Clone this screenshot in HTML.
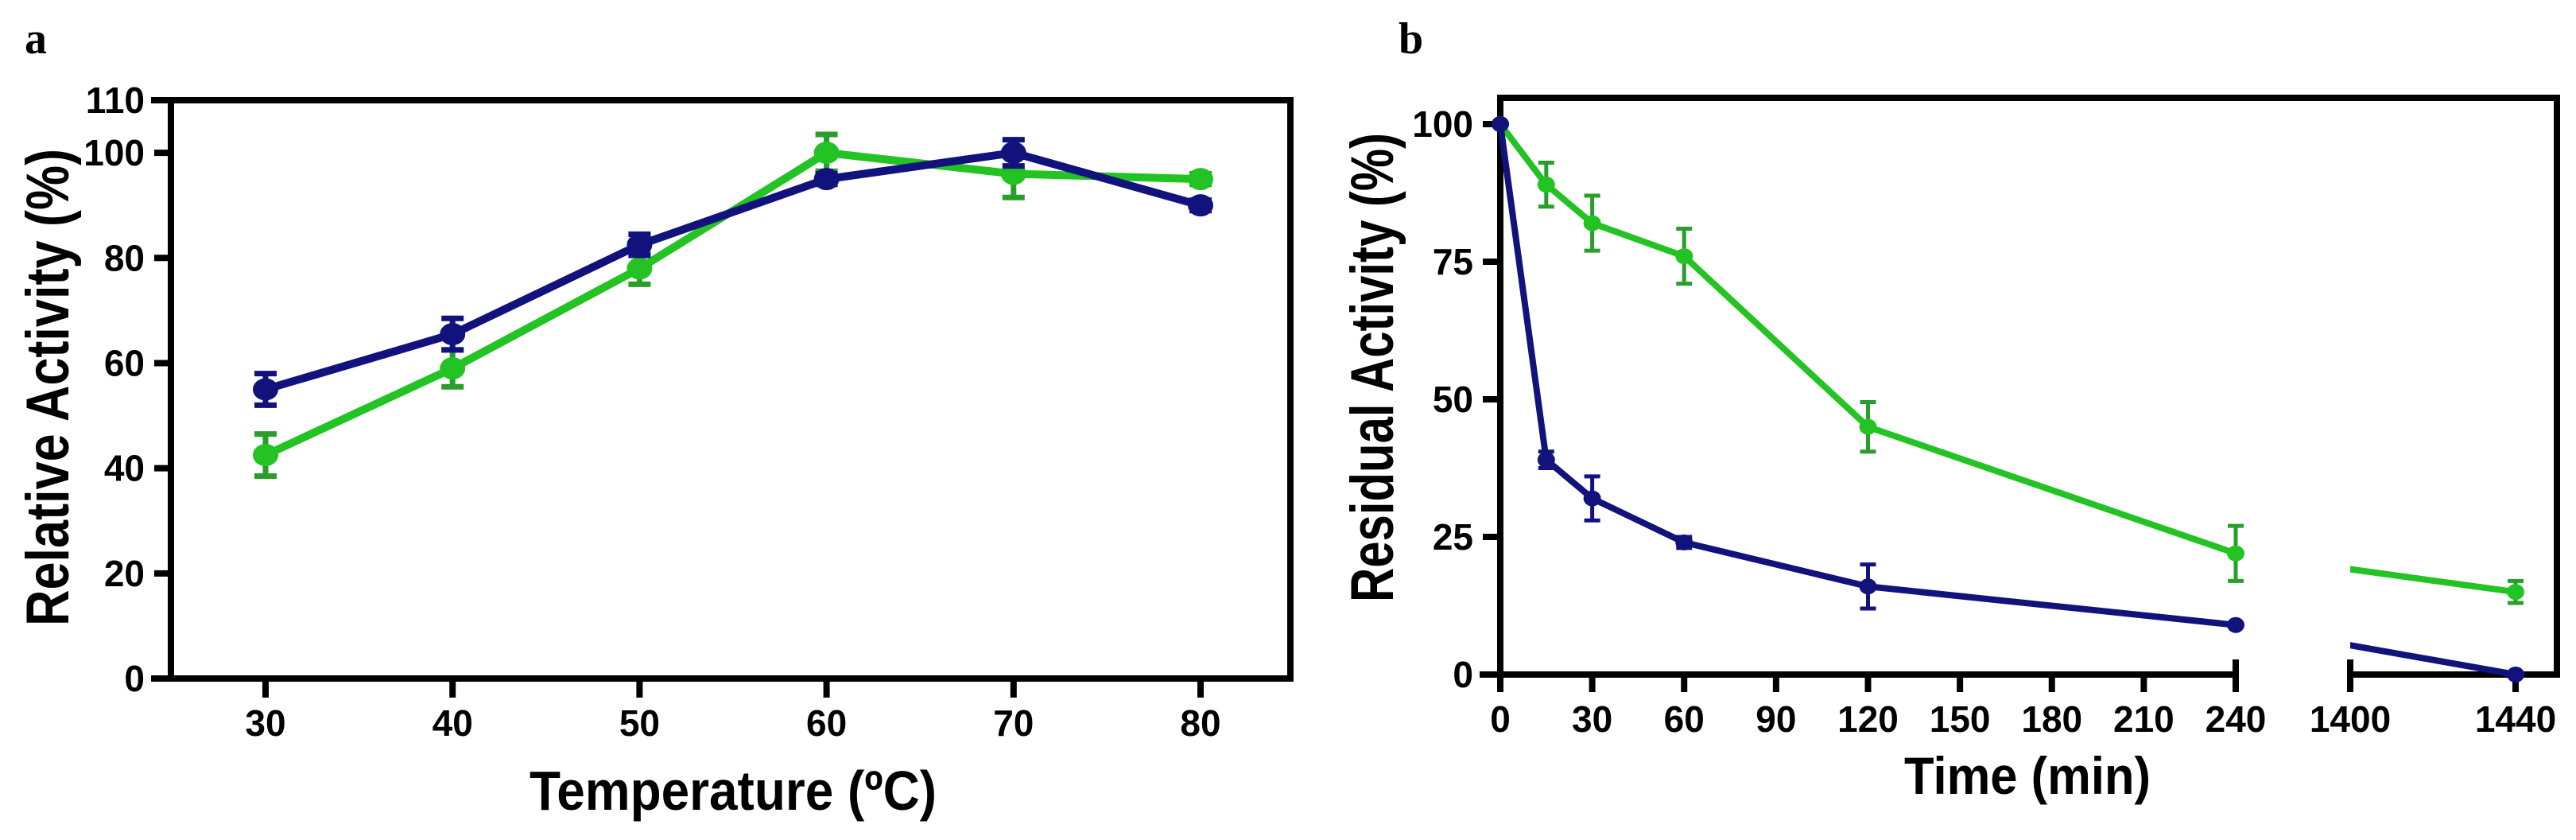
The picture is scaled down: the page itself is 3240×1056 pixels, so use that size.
<!DOCTYPE html>
<html><head><meta charset="utf-8"><style>
html,body{margin:0;padding:0;background:#fff;}
svg text{font-family:"Liberation Sans Narrow","Liberation Sans",sans-serif;font-weight:bold;fill:#000;}
</style></head><body>
<svg id="fig" xmlns="http://www.w3.org/2000/svg" width="3240" height="1051" viewBox="0 0 3240 1051">
<text x="31" y="67" style="font-family:'Liberation Serif',serif;font-size:56px;">a</text>
<text x="1759" y="67" style="font-family:'Liberation Serif',serif;font-size:56px;">b</text>
<text x="922" y="1018" text-anchor="middle" textLength="512" lengthAdjust="spacingAndGlyphs" style="font-size:70px;">Temperature (ºC)</text>
<text transform="translate(86,487) rotate(-90)" text-anchor="middle" textLength="600" lengthAdjust="spacingAndGlyphs" style="font-family:'Liberation Sans',sans-serif;font-size:76px;">Relative Activity (%)</text>
<text x="2550" y="998" text-anchor="middle" textLength="310" lengthAdjust="spacingAndGlyphs" style="font-size:66px;">Time (min)</text>
<text transform="translate(1752,462) rotate(-90)" text-anchor="middle" textLength="590" lengthAdjust="spacingAndGlyphs" style="font-family:'Liberation Sans',sans-serif;font-size:76px;">Residual Activity (%)</text>
<g id="ga"></g>
<g id="gb"></g>
</svg>
<script>
// Panel a data
const aTemps = [30,40,50,60,70,80];
const aBlue = [55,65.5,82.5,95,100,90];
const aBlueErr = [3,3,2,1,2.5,1];
const aGreen = [42.5,59,78,100,96,95];
const aGreenErr = [4,3.5,3,3.5,4.5,1];
const aYTicks = [0,20,40,60,80,100,110];
const aXTicks = [30,40,50,60,70,80];
// Panel b data
const bTimes = [0,15,30,60,120,240,1440];
const bGreen = [100,89,82,76,45,22,15];
const bGreenErr = [0,4,5,5,4.5,5,2];
const bBlue = [100,39,32,24,16,9,0];
const bBlueErr = [0,1.5,4,1,4,0,0];
const bYTicks = [0,25,50,75,100];
const bXTicks = [0,30,60,90,120,150,180,210,240,1400,1440];

const NS='http://www.w3.org/2000/svg';
const NAVY='#12127c', GREEN='#22c322', GERR='#2a9e2a';
function mk(parent,tag,attrs){const e=document.createElementNS(NS,tag);for(const k in attrs)e.setAttribute(k,attrs[k]);parent.appendChild(e);return e;}

// ---- Panel a ----
const ga=document.getElementById('ga');
const ax=v=>334+(v-30)*(1510-334)/50;
const ay=v=>853-v*(853-126)/110;
function frameA(){
  [[194,126,1623,126],[215,126,215,853],[194,853,1623,853],[1623,126,1623,853]].forEach(s=>{
    const l=mk(ga,'line',{x1:s[0],y1:s[1],x2:s[2],y2:s[3],stroke:'#000','stroke-width':8,'stroke-linecap':'square'});
    
    
  });
  aYTicks.forEach(t=>{
    const l=mk(ga,'line',{x1:194,y1:ay(t),x2:215,y2:ay(t),stroke:'#000','stroke-width':8});
    
    
    const tx=mk(ga,'text',{x:182,y:ay(t)+16,'text-anchor':'end','font-size':46});
    tx.textContent=t;
    
    
  });
  aXTicks.forEach(t=>{
    const l=mk(ga,'line',{x1:ax(t),y1:853,x2:ax(t),y2:877,stroke:'#000','stroke-width':8});
    
    
    const tx=mk(ga,'text',{x:ax(t),y:925,'text-anchor':'middle','font-size':46});
    tx.textContent=t;
    
    
  });
}
frameA();
function seriesA(vals,errs,color,ecolor,name){
  const pts=aTemps.map((t,i)=>ax(t)+','+ay(vals[i])).join(' ');
  const pl=mk(ga,'polyline',{points:pts,fill:'none',stroke:color,'stroke-width':10,'stroke-linejoin':'round'});
  
  
  aTemps.forEach((t,i)=>{
    const x=ax(t),y1=ay(vals[i]+errs[i]),y2=ay(vals[i]-errs[i]);
    const eb=mk(ga,'path',{d:`M${x},${y1}V${y2}M${x-14},${y1}H${x+14}M${x-14},${y2}H${x+14}`,stroke:ecolor,'stroke-width':7,fill:'none'});
    
    
    const c=mk(ga,'ellipse',{cx:x,cy:ay(vals[i]),rx:16,ry:14,fill:color});
    
    
  });
}
seriesA(aGreen,aGreenErr,GREEN,GERR,'a-green');
seriesA(aBlue,aBlueErr,NAVY,NAVY,'a-blue');

// ---- Panel b ----
const gb=document.getElementById('gb');
const bx=v=>v<=240?1887+v*(2812-1887)/240:2956+(v-1400)*(3164-2956)/40;
const by=v=>848-v*(848-156)/100;
function frameB(){
  [[1887,123,3216,123],[1887,123,1887,848],[3216,123,3216,848],[1865,848,2812,848],[2956,848,3216,848],[2812,833,2812,862],[2956,833,2956,862]].forEach(s=>{
    const l=mk(gb,'line',{x1:s[0],y1:s[1],x2:s[2],y2:s[3],stroke:'#000','stroke-width':8,'stroke-linecap':'square'});
    
    
  });
  bYTicks.forEach(t=>{
    const l=mk(gb,'line',{x1:1865,y1:by(t),x2:1887,y2:by(t),stroke:'#000','stroke-width':8});
    
    
    const tx=mk(gb,'text',{x:1853,y:by(t)+16,'text-anchor':'end','font-size':46});
    tx.textContent=t;
    
    
  });
  bXTicks.forEach(t=>{
    const l=mk(gb,'line',{x1:bx(t),y1:848,x2:bx(t),y2:870,stroke:'#000','stroke-width':8});
    
    
    const tx=mk(gb,'text',{x:bx(t),y:920,'text-anchor':'middle','font-size':46});
    tx.textContent=t;
    
    
  });
}
frameB();
const defs=mk(gb,'defs',{});
const cp=mk(defs,'clipPath',{id:'bclip'});
mk(cp,'rect',{x:1800,y:0,width:1012,height:1051});
mk(cp,'rect',{x:2956,y:0,width:300,height:1051});
function seriesB(vals,errs,color,ecolor,name){
  const pts=bTimes.map((t,i)=>bx(t)+','+by(vals[i])).join(' ');
  const pl=mk(gb,'polyline',{points:pts,fill:'none',stroke:color,'stroke-width':8,'stroke-linejoin':'round','clip-path':'url(#bclip)'});
  
  
  bTimes.forEach((t,i)=>{
    const x=bx(t);
    if(errs[i]>0){
      const y1=by(vals[i]+errs[i]),y2=by(vals[i]-errs[i]);
      const eb=mk(gb,'path',{d:`M${x},${y1}V${y2}M${x-10},${y1}H${x+10}M${x-10},${y2}H${x+10}`,stroke:ecolor,'stroke-width':5,fill:'none'});
      
      
    }
    const c=mk(gb,'ellipse',{cx:x,cy:by(vals[i]),rx:11,ry:10,fill:color});
    
    
  });
}
seriesB(bGreen,bGreenErr,GREEN,GERR,'b-green');
seriesB(bBlue,bBlueErr,NAVY,NAVY,'b-blue');
</script>
</body></html>
